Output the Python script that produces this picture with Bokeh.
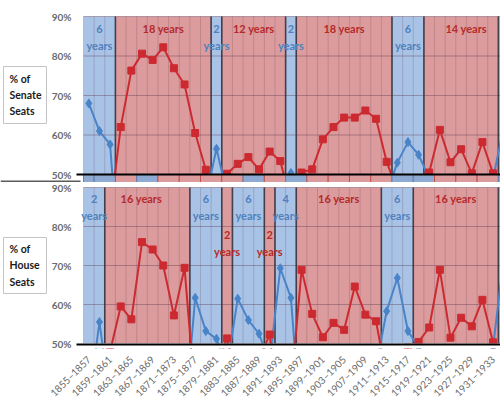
from bokeh.plotting import figure
from bokeh.layouts import column
from bokeh.models import Range1d, FixedTicker
from bokeh.core.properties import value
from bokeh.embed import file_html
from bokeh.resources import INLINE
import math

# ---------------- data ----------------
congress_start = [1855, 1857, 1859, 1861, 1863, 1865, 1867, 1869, 1871, 1873,
                  1875, 1877, 1879, 1881, 1883, 1885, 1887, 1889, 1891, 1893,
                  1895, 1897, 1899, 1901, 1903, 1905, 1907, 1909, 1911, 1913,
                  1915, 1917, 1919, 1921, 1923, 1925, 1927, 1929, 1931, 1933]
tick_labels = ["1855–1857", "1859–1861", "1863–1865", "1867–1869", "1871–1873",
               "1875–1877", "1879–1881", "1883–1885", "1887–1889", "1891–1893",
               "1895–1897", "1899–1901", "1903–1905", "1907–1909", "1911–1913",
               "1915–1917", "1919–1921", "1923–1925", "1927–1929", "1931–1933"]
y_ticks = [50, 60, 70, 80, 90]
y_tick_labels = ["50%", "60%", "70%", "80%", "90%"]

senate_rep = [24, 32, 40, 62, 76.3, 80.6, 79, 82.2, 76.9, 72.8,
              60.5, 51.2, 43, 50.2, 52.7, 54.4, 51.3, 55.8, 53.4, 43,
              50.5, 51.3, 58.9, 62, 64.4, 64.4, 66.2, 64.1, 53.2, 46,
              42, 44, 50.5, 61.3, 53.1, 56.4, 50.3, 58.2, 50.3, 37]
senate_dem = [68, 61, 57.6, 22, 20, 19, 17, 14, 23, 26,
              38, 44, 56.5, 45, 47, 45, 49, 45, 44, 50.4,
              44, 37, 29, 33, 36, 35, 33, 34, 45, 53,
              58.2, 55, 49, 39, 45, 42, 49, 41, 49, 62]
house_rep = [45, 37, 48, 59.5, 56.2, 76, 74.1, 70, 57.2, 69.4,
             36, 45, 44, 51.3, 37, 43, 46, 52.3, 27, 38,
             68.9, 57.6, 51.6, 55.3, 53.5, 64.6, 57.4, 55.7, 41, 30,
             49, 50.4, 54.1, 68.9, 51.5, 56.6, 54.4, 61.2, 50.3, 24]
house_dem = [35, 55.5, 35, 24, 39, 26, 21, 27, 42, 30,
             61.7, 53.2, 51.2, 44, 61.5, 56, 52.5, 45, 69.3, 61.7,
             26, 37, 46, 42, 46, 35, 42, 44, 58.3, 66.8,
             53.2, 49, 44, 30, 47, 42, 45, 37, 49, 72]

senate_band_start = [1855, 1861, 1879, 1881, 1893, 1895, 1913, 1919, 1933]
senate_band_end = [1861, 1879, 1881, 1893, 1895, 1913, 1919, 1933, 1937]
senate_band_party = ["D", "R", "D", "R", "D", "R", "D", "R", "D"]
senate_band_label = ["6\nyears", "18 years", "2\nyears", "12 years", "2\nyears",
                     "18 years", "6\nyears", "14 years", ""]

house_band_start = [1855, 1859, 1875, 1881, 1883, 1889, 1891, 1895, 1911, 1917, 1933]
house_band_end = [1859, 1875, 1881, 1883, 1889, 1891, 1895, 1911, 1917, 1933, 1937]
house_band_party = ["D", "R", "D", "R", "D", "R", "D", "R", "D", "R", "D"]
house_band_label = ["2\nyears", "16 years", "6\nyears", "2\nyears", "6\nyears", "2\nyears",
                    "4\nyears", "16 years", "6\nyears", "16 years", ""]

pres_start = [1853, 1857, 1861, 1865, 1869, 1873, 1877, 1881, 1885, 1889, 1893,
              1897, 1901, 1905, 1909, 1913, 1917, 1921, 1925, 1929, 1933]
pres_party = ["D", "D", "R", "D", "R", "R", "R", "R", "D", "R", "D",
              "R", "R", "R", "R", "D", "D", "R", "R", "R", "D"]

# ---------------- styles / geometry ----------------
BAND = {"D": "#a9c3e6", "R": "#dc9c9d"}
STRIP = {"D": "#8eaad3", "R": "#dc9c9d"}
STRIP_LINE = {"D": "#5f7fb0", "R": "#c0504d"}
TXT = {"D": "#4f81bd", "R": "#b52a2a"}
GRID = "#5a3a50"
RED_LINE = "#cc2a30"
BLUE_LINE = "#4a84c8"
FONT = "Lato"
X0, X1 = 1855, 1933.4
LEFT = 83                      # px left of the plotting area
W = 500
PPY = (W - LEFT) / (X1 - X0)   # px per year
XL = X0 - LEFT / PPY           # x value at the left page edge


def px(n):                      # horizontal pixel distance -> years
    return n / PPY


# top panel: 90% at y=16, 50% at y=174, figure bottom at 182
T_90, T_50, T_END = 16, 174, 182
T_PPU = (T_50 - T_90) / 40.0
# bottom panel: figure starts at 182, 90% at 187, 50% at 343, frame bottom 348
B_START, B_90, B_50, B_FEND, B_END = 182, 187, 343, 348, 398
B_PPU = (B_50 - B_90) / 40.0


def mids(starts):
    return [s + 1 for s in starts]


def panel(height, y_lo, y_hi, border_bottom, with_axis):
    f = figure(title=None, toolbar_location=None, output_backend="svg",
               frame_width=W, frame_height=height, min_border_left=0, min_border_right=0,
               min_border_top=0, min_border_bottom=border_bottom,
               x_range=Range1d(XL, X1), y_range=Range1d(y_lo, y_hi),
               x_axis_location="below" if with_axis else None, y_axis_location=None)
    f.outline_line_color = None
    f.grid.visible = False
    return f


def draw_panel(p, ppu, y90_px, rep, dem, bs, be, bp, bl, label_top, box_px, box_text,
               drop=None, dx=None):
    drop = drop or {}
    dx = dx or {}
    # party bands
    p.quad(left=bs, right=be, bottom=50, top=90, fill_color=[BAND[q] for q in bp],
           line_color=None)
    # grid lines
    n = len(congress_start)
    p.segment(x0=congress_start, x1=congress_start, y0=[50] * n, y1=[90] * n,
              line_color=GRID, line_alpha=0.22, line_width=1)
    g = [60, 70, 80, 90]
    p.segment(x0=[X0] * 4, x1=[X1] * 4, y0=g, y1=g, line_color=GRID, line_alpha=0.4,
              line_width=1)
    # band boundaries
    m = len(bs) - 1
    p.segment(x0=bs[1:], x1=bs[1:], y0=[50] * m, y1=[90] * m,
              line_color="#2e2e3a", line_width=1.6, line_alpha=0.85)
    # series
    xs = mids(congress_start)
    p.line(xs, dem, line_color=BLUE_LINE, line_width=2)
    p.scatter(xs, dem, marker="diamond", size=9, fill_color=BLUE_LINE, line_color=BLUE_LINE)
    p.line(xs, rep, line_color=RED_LINE, line_width=2)
    p.scatter(xs, rep, marker="square", size=7, fill_color=RED_LINE, line_color=RED_LINE)
    # band labels
    tx, ty, tt, tc, to = [], [], [], [], []
    for i, lab in enumerate(bl):
        if not lab:
            continue
        tx.append((bs[i] + be[i]) / 2)
        ty.append(drop.get(i, label_top))
        tt.append(lab)
        tc.append(TXT[bp[i]])
        to.append(dx.get(i, 0))
    p.text(x=tx, y=ty, text=tt, text_color=tc, x_offset=to,
           text_font=value(FONT), text_font_style="bold", text_font_size="11px",
           text_align="center", text_baseline="top", text_line_height=1.3)

    # y tick labels
    def to_val(py):
        return 90 - (py - y90_px) / ppu
    p.text(x=[X0 - px(12)] * len(y_ticks), y=y_ticks, text=y_tick_labels,
           text_font=value(FONT), text_font_style="bold", text_font_size="10px",
           text_color="#6a6a6a", text_align="right", text_baseline="middle")
    # side box
    p.quad(left=XL + px(3), right=XL + px(46), top=to_val(box_px[0]), bottom=to_val(box_px[1]),
           fill_color="white", line_color="#c4c4c4", line_width=1)
    p.text(x=[XL + px(9)], y=[to_val((box_px[0] + box_px[1]) / 2)], text=[box_text],
           text_font=value(FONT), text_font_style="bold", text_font_size="10.5px",
           text_color="#1a1a1a", text_align="left", text_baseline="middle",
           text_line_height=1.35)


# ---------------- top (Senate) ----------------
t_lo = 50 - (T_END - T_50) / T_PPU
t_hi = 90 + T_90 / T_PPU
top = panel(T_END, t_lo, t_hi, 0, False)
draw_panel(top, T_PPU, T_90, senate_rep, senate_dem, senate_band_start, senate_band_end,
           senate_band_party, senate_band_label, 88.5, (66, 123), "% of\nSenate\nSeats",
           dx={7: 5})
pres_left = [max(s, X0) for s in pres_start]
pres_right = [s + 4 for s in pres_start]
top.quad(left=pres_left, right=pres_right, bottom=t_lo, top=50,
         fill_color=[STRIP[q] for q in pres_party],
         line_color=[STRIP_LINE[q] for q in pres_party], line_width=1)
top.quad(left=[X0 - px(7)], right=[X1], bottom=[50 - 1 / T_PPU], top=[50 + 1 / T_PPU],
         fill_color="black", line_color=None)
top.quad(left=[XL], right=[X0 - px(3)], bottom=[50 - 8 / T_PPU], top=[50 - 6 / T_PPU],
         fill_color="#5a5a5a", line_color=None)

# ---------------- bottom (House) ----------------
b_lo = 90 - (B_FEND - B_90) / B_PPU
b_hi = 90 + (B_90 - B_START) / B_PPU
bot = panel(B_FEND - B_START, b_lo, b_hi, B_END - B_FEND, True)
draw_panel(bot, B_PPU, B_90, house_rep, house_dem, house_band_start, house_band_end,
           house_band_party, house_band_label, 88.85, (237, 293), "% of\nHouse\nSeats",
           drop={3: 79.6, 5: 79.6}, dx={1: -6})
bot.quad(left=[X0], right=[X1], bottom=[b_lo], top=[50], fill_color="white", line_color=None)
bot.quad(left=[X0 - px(7)], right=[X1], bottom=[50 - 2 / B_PPU], top=[50],
         fill_color="black", line_color=None)

bot.xaxis.ticker = FixedTicker(ticks=mids(congress_start)[::2])
bot.xaxis.major_label_overrides = {m: t for m, t in zip(mids(congress_start)[::2], tick_labels)}
bot.xaxis.major_label_orientation = math.pi / 4
bot.xaxis.axis_line_color = None
bot.xaxis.major_tick_line_color = None
bot.xaxis.minor_tick_line_color = None
bot.xaxis.major_label_text_font = FONT
bot.xaxis.major_label_text_font_size = "10px"
bot.xaxis.major_label_text_color = "#6a6a6a"
bot.xaxis.major_label_standoff = 3

p = column(top, bot)
open("out.html", "w").write(file_html(p, INLINE))
